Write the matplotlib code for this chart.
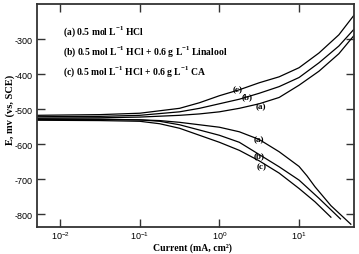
import numpy as np
import matplotlib
matplotlib.use('Agg')
import matplotlib.pyplot as plt
from matplotlib.ticker import LogLocator, NullLocator, FixedLocator

################################ data (log10 of current, E in mV)

anod_x = [-2.3, -1.5, -1.0, -0.5, -0.25, 0.0, 0.25, 0.5, 0.75, 1.0, 1.25, 1.5, 1.69]
anod_a = [-526, -525, -523, -518, -514, -508, -498, -485, -467, -432, -392, -342, -290]
anod_b = [-522, -521, -518, -508, -498, -485, -472, -455, -436, -410, -368, -320, -272]
anod_c = [-518, -516, -512, -498, -482, -462, -445, -425, -408, -382, -340, -288, -232]

cath_a_x = [-2.3, -1.5, -1.0, -0.75, -0.5, -0.25, 0.0, 0.25, 0.5, 0.75, 1.0, 1.1, 1.2, 1.4, 1.65]
cath_a = [-530, -530, -531, -533, -538, -545, -552, -565, -587, -622, -664, -691, -722, -776, -829]
cath_b_x = [-2.3, -1.5, -1.0, -0.75, -0.5, -0.25, 0.0, 0.25, 0.5, 0.75, 1.0, 1.25, 1.52]
cath_b = [-528, -529, -531, -535, -545, -560, -575, -595, -630, -665, -703, -755, -814]
cath_c_x = [-2.3, -1.5, -1.0, -0.75, -0.5, -0.25, 0.0, 0.25, 0.5, 0.75, 1.0, 1.2, 1.4]
cath_c = [-532, -533, -535, -542, -555, -575, -595, -618, -648, -683, -727, -765, -809]

sup = r'$^{\mathbf{-1}}$'
legend_lines = ['(a) 0.5 mol L' + sup + ' HCl',
                '(b) 0.5 mol L' + sup + ' HCl + 0.6 g L' + sup + ' Linalool',
                '(c) 0.5 mol L' + sup + ' HCl + 0.6 g L' + sup + ' CA']

################################ plot

plt.rcParams['mathtext.fontset'] = 'custom'
plt.rcParams['mathtext.rm'] = 'Liberation Sans'
plt.rcParams['mathtext.bf'] = 'Liberation Serif:bold'
plt.rcParams['axes.unicode_minus'] = False

fig = plt.figure(figsize=(3.59, 2.55), dpi=100)
ax = fig.add_axes([37/359, 1-228/255, (354-37)/359, (228-5)/255])

for xs, ys in [(anod_x, anod_a), (anod_x, anod_b), (anod_x, anod_c),
               (cath_a_x, cath_a), (cath_b_x, cath_b), (cath_c_x, cath_c)]:
    ax.plot(10**np.array(xs), ys, color='black', lw=0.9)

ax.set_xscale('log')
ax.set_xlim(10**-2.29, 10**1.69)
ax.set_ylim(-837, -200)
ax.xaxis.set_major_locator(LogLocator(base=10, numticks=10))
ax.xaxis.set_minor_locator(NullLocator())
ax.yaxis.set_major_locator(FixedLocator([-800, -700, -600, -500, -400, -300]))

ax.tick_params(axis='both', which='major', direction='in', length=6, width=1,
               top=True, right=True, labelsize=6.5, color='#333333', pad=3)
ax.tick_params(axis='x', pad=1.5)
for lab in ax.get_xticklabels() + ax.get_yticklabels():
    lab.set_family('Liberation Sans')
for sp in ax.spines.values():
    sp.set_linewidth(1.3)
    sp.set_color('#333333')

serif = dict(family='Liberation Serif', fontweight='bold')

ys_leg = [-277, -334, -391]
for t, y in zip(legend_lines, ys_leg):
    ax.text(0.011, y, t, fontsize=6.9, va='center', ha='left', **serif)

# curve labels
ax.text(1.68, -443, '(c)', fontsize=6.5, ha='center', va='center', **serif)
ax.text(2.24, -463, '(b)', fontsize=6.5, ha='center', va='center', **serif)
ax.text(3.35, -491, '(a)', fontsize=6.5, ha='center', va='center', **serif)
ax.text(3.16, -586, '(a)', fontsize=6.5, ha='center', va='center', **serif)
ax.text(3.16, -631, '(b)', fontsize=6.5, ha='center', va='center', **serif)
ax.text(3.35, -663, '(c)', fontsize=6.5, ha='center', va='center', **serif)

fig.text(192/359, 2/255, 'Current (mA, cm\u00b2)',
         fontsize=7, ha='center', va='bottom', **serif)
ax.set_ylabel('E, mv (vs, SCE)', fontsize=7.5, **serif)
ax.yaxis.set_label_coords(-0.07, 0.53)

fig.savefig('out.png', dpi=100)
